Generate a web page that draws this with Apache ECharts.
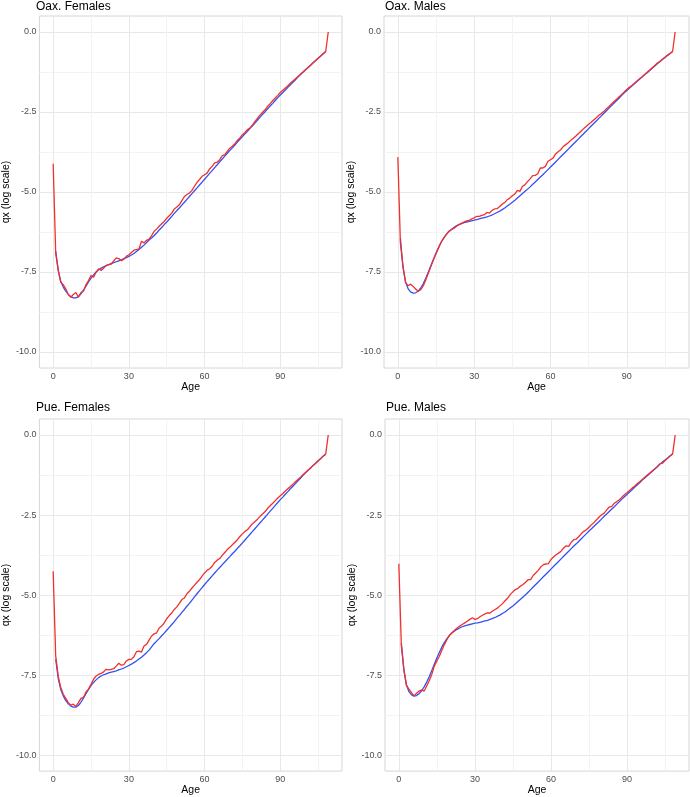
<!DOCTYPE html>
<html>
<head>
<meta charset="utf-8">
<script src="https://cdn.jsdelivr.net/npm/echarts@6/dist/echarts.min.js"></script>
<style>
html,body{margin:0;padding:0;background:#fff;}
#chart{width:690px;height:797px;}
</style>
</head>
<body>
<div id="chart"></div>
<script>
// Panel titles
const panelTitles = ['Oax. Females', 'Oax. Males', 'Pue. Females', 'Pue. Males'];
// Tick values
const xGridTicks = [0, 15, 30, 45, 60, 75, 90, 105];
const xLabelTicks = [0, 30, 60, 90];
const yGridTicks = [-10, -8.75, -7.5, -6.25, -5, -3.75, -2.5, -1.25, 0];
const yLabelTicks = [-10, -7.5, -5, -2.5, 0];

// log qx, observed (red), ages 0..109
const oaxFemObs = [
-4.12,-6.9,-7.43,-7.82,-7.9,-8.03,-8.2,-8.29,-8.2,-8.14,
-8.29,-8.14,-8.1,-7.9,-7.77,-7.61,-7.66,-7.51,-7.4,-7.45,
-7.38,-7.3,-7.27,-7.25,-7.15,-7.06,-7.08,-7.15,-7.1,-7.01,
-6.96,-6.89,-6.82,-6.8,-6.78,-6.54,-6.59,-6.51,-6.47,-6.36,
-6.23,-6.16,-6.07,-5.99,-5.92,-5.82,-5.74,-5.66,-5.53,-5.47,
-5.4,-5.27,-5.14,-5.08,-5.03,-4.95,-4.82,-4.7,-4.61,-4.51,
-4.46,-4.41,-4.28,-4.2,-4.09,-4.07,-3.99,-3.86,-3.83,-3.73,
-3.63,-3.57,-3.49,-3.39,-3.31,-3.21,-3.14,-3.05,-3.0,-2.9,
-2.79,-2.69,-2.59,-2.51,-2.43,-2.32,-2.24,-2.15,-2.06,-1.98,
-1.89,-1.82,-1.75,-1.68,-1.6,-1.53,-1.46,-1.39,-1.32,-1.25,
-1.18,-1.11,-1.04,-0.96,-0.89,-0.82,-0.75,-0.68,-0.61,0
];
// log qx, fitted (blue), ages 0..108
const oaxFemFit = [
null,-6.85,-7.45,-7.8,-7.97,-8.1,-8.2,-8.27,-8.31,-8.31,
-8.27,-8.18,-8.07,-7.94,-7.81,-7.69,-7.59,-7.5,-7.43,-7.38,
-7.34,-7.3,-7.27,-7.24,-7.21,-7.18,-7.15,-7.12,-7.08,-7.05,
-7.01,-6.97,-6.92,-6.86,-6.8,-6.73,-6.66,-6.58,-6.5,-6.44,
-6.36,-6.28,-6.19,-6.11,-6.02,-5.94,-5.85,-5.76,-5.67,-5.58,
-5.5,-5.41,-5.32,-5.23,-5.14,-5.05,-4.96,-4.87,-4.78,-4.69,
-4.6,-4.51,-4.42,-4.33,-4.24,-4.15,-4.06,-3.97,-3.88,-3.79,
-3.7,-3.62,-3.53,-3.44,-3.35,-3.27,-3.18,-3.1,-3.01,-2.93,
-2.84,-2.75,-2.66,-2.57,-2.49,-2.4,-2.31,-2.23,-2.14,-2.05,
-1.97,-1.89,-1.81,-1.73,-1.65,-1.57,-1.49,-1.41,-1.33,-1.26,
-1.18,-1.11,-1.04,-0.96,-0.89,-0.82,-0.75,-0.68,-0.61
];
const oaxMalObs = [
-3.91,-6.6,-7.3,-7.82,-7.93,-7.88,-7.95,-8.03,-8.1,-8.05,
-7.93,-7.74,-7.53,-7.32,-7.12,-6.93,-6.75,-6.57,-6.44,-6.33,
-6.23,-6.18,-6.14,-6.07,-6.02,-5.98,-5.94,-5.9,-5.89,-5.84,
-5.81,-5.76,-5.76,-5.73,-5.71,-5.64,-5.66,-5.58,-5.53,-5.52,
-5.45,-5.38,-5.33,-5.24,-5.19,-5.12,-5.06,-4.95,-4.98,-4.82,
-4.77,-4.67,-4.59,-4.49,-4.48,-4.43,-4.25,-4.25,-4.2,-4.04,
-3.99,-3.94,-3.81,-3.74,-3.68,-3.58,-3.52,-3.46,-3.38,-3.32,
-3.25,-3.17,-3.1,-3.02,-2.95,-2.88,-2.82,-2.75,-2.68,-2.6,
-2.55,-2.48,-2.4,-2.33,-2.25,-2.17,-2.1,-2.02,-1.95,-1.87,
-1.8,-1.73,-1.67,-1.6,-1.53,-1.46,-1.4,-1.33,-1.26,-1.19,
-1.12,-1.05,-0.97,-0.93,-0.86,-0.8,-0.73,-0.67,-0.61,0
];
const oaxMalFit = [
null,-6.45,-7.35,-7.8,-8.02,-8.12,-8.16,-8.15,-8.1,-8.0,
-7.86,-7.69,-7.5,-7.3,-7.1,-6.91,-6.73,-6.57,-6.44,-6.33,
-6.24,-6.17,-6.11,-6.06,-6.02,-5.99,-5.96,-5.94,-5.92,-5.9,
-5.88,-5.86,-5.84,-5.82,-5.8,-5.78,-5.75,-5.72,-5.68,-5.64,
-5.6,-5.55,-5.5,-5.44,-5.38,-5.32,-5.26,-5.19,-5.12,-5.05,
-4.98,-4.91,-4.84,-4.76,-4.69,-4.61,-4.53,-4.46,-4.38,-4.3,
-4.22,-4.14,-4.06,-3.98,-3.9,-3.82,-3.74,-3.66,-3.58,-3.5,
-3.42,-3.34,-3.26,-3.18,-3.1,-3.02,-2.94,-2.86,-2.78,-2.7,
-2.62,-2.54,-2.46,-2.38,-2.3,-2.22,-2.14,-2.06,-1.98,-1.9,
-1.83,-1.76,-1.69,-1.62,-1.55,-1.48,-1.41,-1.34,-1.27,-1.2,
-1.13,-1.06,-0.99,-0.92,-0.85,-0.79,-0.73,-0.67,-0.61
];
const pueFemObs = [
-4.26,-6.9,-7.53,-7.89,-8.1,-8.23,-8.36,-8.44,-8.41,-8.48,
-8.36,-8.23,-8.2,-8.03,-7.94,-7.79,-7.63,-7.53,-7.48,-7.45,
-7.4,-7.32,-7.34,-7.32,-7.3,-7.22,-7.13,-7.19,-7.17,-7.06,
-7.01,-7.01,-6.93,-6.77,-6.75,-6.78,-6.59,-6.54,-6.41,-6.28,
-6.21,-6.18,-6.03,-5.97,-5.87,-5.74,-5.64,-5.56,-5.45,-5.37,
-5.26,-5.14,-5.09,-4.96,-4.88,-4.78,-4.69,-4.6,-4.52,-4.41,
-4.31,-4.23,-4.18,-4.1,-3.98,-3.91,-3.86,-3.76,-3.67,-3.58,
-3.51,-3.43,-3.35,-3.27,-3.17,-3.09,-3.01,-2.96,-2.86,-2.77,
-2.7,-2.63,-2.54,-2.47,-2.39,-2.29,-2.21,-2.13,-2.05,-1.97,
-1.9,-1.83,-1.75,-1.68,-1.61,-1.54,-1.46,-1.39,-1.32,-1.24,
-1.17,-1.1,-1.03,-0.95,-0.88,-0.81,-0.74,-0.66,-0.59,0
];
const pueFemFit = [
null,-7.0,-7.6,-7.95,-8.15,-8.3,-8.4,-8.47,-8.5,-8.5,
-8.45,-8.35,-8.22,-8.08,-7.95,-7.83,-7.73,-7.65,-7.58,-7.53,
-7.49,-7.46,-7.43,-7.41,-7.39,-7.37,-7.34,-7.31,-7.28,-7.24,
-7.2,-7.16,-7.11,-7.06,-7.0,-6.94,-6.87,-6.8,-6.72,-6.62,
-6.52,-6.44,-6.36,-6.27,-6.19,-6.1,-6.01,-5.92,-5.83,-5.73,
-5.64,-5.54,-5.45,-5.35,-5.26,-5.16,-5.06,-4.96,-4.86,-4.77,
-4.67,-4.58,-4.49,-4.4,-4.31,-4.22,-4.14,-4.05,-3.97,-3.88,
-3.8,-3.71,-3.63,-3.54,-3.46,-3.37,-3.28,-3.19,-3.1,-3.01,
-2.92,-2.83,-2.74,-2.65,-2.56,-2.47,-2.38,-2.29,-2.2,-2.11,
-2.02,-1.94,-1.85,-1.77,-1.68,-1.6,-1.52,-1.43,-1.35,-1.26,
-1.18,-1.1,-1.03,-0.95,-0.88,-0.8,-0.73,-0.66,-0.6
];
const pueMalObs = [
-4.02,-6.59,-7.32,-7.82,-7.94,-8.05,-8.15,-8.07,-8.0,-7.96,
-8.0,-7.84,-7.68,-7.48,-7.22,-7.06,-6.91,-6.72,-6.54,-6.39,
-6.25,-6.18,-6.1,-6.03,-5.97,-5.92,-5.87,-5.82,-5.76,-5.71,
-5.76,-5.74,-5.68,-5.63,-5.59,-5.56,-5.56,-5.5,-5.45,-5.4,
-5.33,-5.26,-5.17,-5.09,-4.98,-4.9,-4.83,-4.79,-4.72,-4.67,
-4.6,-4.52,-4.52,-4.39,-4.31,-4.23,-4.12,-4.05,-4.03,-4.02,
-3.89,-3.81,-3.74,-3.69,-3.63,-3.53,-3.46,-3.48,-3.35,-3.27,
-3.25,-3.17,-3.08,-3.01,-2.96,-2.88,-2.8,-2.73,-2.65,-2.56,
-2.49,-2.44,-2.34,-2.25,-2.23,-2.13,-2.08,-2.02,-1.94,-1.87,
-1.8,-1.73,-1.66,-1.6,-1.52,-1.46,-1.39,-1.32,-1.25,-1.19,
-1.12,-1.05,-0.98,-0.9,-0.88,-0.8,-0.73,-0.66,-0.59,0
];
const pueMalFit = [
null,-6.5,-7.35,-7.8,-8.02,-8.12,-8.16,-8.14,-8.08,-7.99,
-7.87,-7.72,-7.55,-7.36,-7.16,-6.97,-6.79,-6.62,-6.48,-6.36,
-6.26,-6.18,-6.12,-6.07,-6.03,-5.99,-5.96,-5.94,-5.92,-5.9,
-5.88,-5.87,-5.85,-5.83,-5.81,-5.79,-5.76,-5.73,-5.7,-5.66,
-5.62,-5.57,-5.52,-5.46,-5.4,-5.34,-5.27,-5.2,-5.13,-5.06,
-4.99,-4.91,-4.83,-4.75,-4.67,-4.59,-4.51,-4.43,-4.35,-4.27,
-4.19,-4.11,-4.03,-3.95,-3.87,-3.79,-3.71,-3.63,-3.55,-3.47,
-3.4,-3.32,-3.24,-3.16,-3.08,-3.0,-2.93,-2.85,-2.77,-2.7,
-2.62,-2.54,-2.47,-2.39,-2.31,-2.24,-2.16,-2.08,-2.0,-1.93,
-1.86,-1.78,-1.71,-1.63,-1.56,-1.49,-1.41,-1.34,-1.27,-1.2,
-1.13,-1.06,-0.99,-0.91,-0.84,-0.78,-0.72,-0.65,-0.59
];

const obsSets = [oaxFemObs, oaxMalObs, pueFemObs, pueMalObs];
const fitSets = [oaxFemFit, oaxMalFit, pueFemFit, pueMalFit];

const FONT = "'Liberation Sans', Arial, Helvetica, sans-serif";
const RED = '#f0302c';
const BLUE = '#3450f0';

const panels = [
  {left: 35, top: 16, width: 307, height: 352},
  {left: 384, top: 16, width: 305, height: 352},
  {left: 35, top: 419, width: 307, height: 353},
  {left: 385, top: 419, width: 304, height: 353}
];
const titleTops = [1, 402];

function toPairs(arr) {
  const out = [];
  for (let i = 0; i < arr.length; i++) {
    if (arr[i] !== null && arr[i] !== undefined) out.push([i, arr[i]]);
  }
  return out;
}

const grid = [], xAxis = [], yAxis = [], series = [], title = [];
panels.forEach((p, k) => {
  grid.push({
    left: p.left, top: p.top, width: p.width, height: p.height,
    show: true, borderColor: '#d6d6d6', borderWidth: 1, backgroundColor: 'transparent'
  });
  title.push({
    text: panelTitles[k], left: p.left + 1, top: titleTops[k < 2 ? 0 : 1], padding: 0,
    textStyle: {fontFamily: FONT, fontSize: 12, fontWeight: 'normal', color: '#000'}
  });
  xAxis.push({
    type: 'value', gridIndex: k, min: -5.45, max: 114.45,
    name: 'Age', nameLocation: 'middle', nameGap: 13,
    nameTextStyle: {fontFamily: FONT, fontSize: 10.5, color: '#000'},
    axisLine: {show: false},
    axisTick: {show: false, customValues: xGridTicks},
    axisLabel: {customValues: xLabelTicks, fontFamily: FONT, fontSize: 9, color: '#4d4d4d', margin: 4},
    splitLine: {show: true, lineStyle: {color: ['#e8e8e8', '#f3f3f3'], width: 1}}
  });
  yAxis.push({
    type: 'value', gridIndex: k, min: -10.5, max: 0.5,
    name: 'qx (log scale)', nameLocation: 'middle', nameGap: 22, nameRotate: 90,
    nameTextStyle: {fontFamily: FONT, fontSize: 10.5, color: '#000'},
    axisLine: {show: false},
    axisTick: {show: false, customValues: yGridTicks},
    axisLabel: {customValues: yLabelTicks, fontFamily: FONT, fontSize: 9, color: '#4d4d4d', margin: 3,
      formatter: v => Number(v).toFixed(1)},
    splitLine: {show: true, lineStyle: {color: ['#e8e8e8', '#f3f3f3'], width: 1}}
  });
  series.push({
    type: 'line', xAxisIndex: k, yAxisIndex: k, data: toPairs(fitSets[k]),
    showSymbol: false, symbol: 'none', lineStyle: {color: BLUE, width: 1.3}, silent: true, animation: false
  });
  series.push({
    type: 'line', xAxisIndex: k, yAxisIndex: k, data: toPairs(obsSets[k]),
    showSymbol: false, symbol: 'none', lineStyle: {color: RED, width: 1.3}, silent: true, animation: false
  });
});

const chart = echarts.init(document.getElementById('chart'), null, {renderer: 'canvas'});
chart.setOption({
  backgroundColor: '#ffffff',
  animation: false,
  title, grid, xAxis, yAxis, series
});
</script>
</body>
</html>
